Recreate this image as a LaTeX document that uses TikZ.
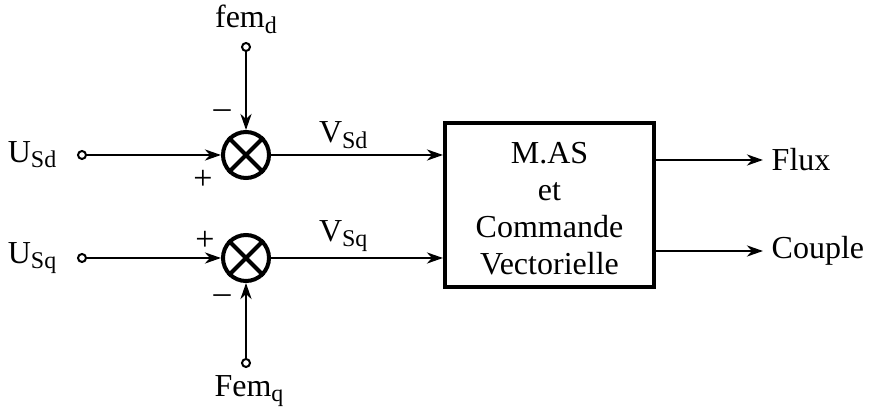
\documentclass[tikz,border=0pt]{standalone}
\usepackage{fontspec}
\setmainfont{Liberation Serif}
\usetikzlibrary{arrows.meta, positioning}
\newcommand\lowtxt[1]{\raisebox{-0.35ex}{\fontsize{24}{24}\selectfont #1}}

\begin{document}
\begin{tikzpicture}[x=1pt, y=1pt, line width=2.8pt,
        >={Stealth[length=16pt,width=11pt,inset=5pt]},
        every node/.style={font=\fontsize{32}{37}\selectfont},
        sumnode/.style={draw, circle, minimum size=46pt, inner sep=0pt, line width=4pt},
        term/.style={draw, circle, fill=white, minimum size=8pt, inner sep=0pt, line width=2pt},
        sign/.style={font=\fontsize{34}{34}\selectfont, inner sep=0pt},
        blockbox/.style={draw, line width=4pt, minimum width=209pt, minimum height=164pt, align=center}]
        \useasboundingbox (0,0) rectangle (876,412);
        % summing junctions
        \node[sumnode] (sumD) at (246,257) {};
        \node[sumnode] (sumQ) at (246,154) {};
        \draw[line width=4pt] (sumD.north west) -- (sumD.south east) (sumD.north east) -- (sumD.south west);
        \draw[line width=4pt] (sumQ.north west) -- (sumQ.south east) (sumQ.north east) -- (sumQ.south west);
        \node[blockbox] (mas) at (549.5,207) {};
        \node[align=center] (mastxt) at ([yshift=-4pt]mas.center) {M.AS\\et\\Commande\\Vectorielle};
        % inputs
        \node[term] (uD) at (82,257) {};
        \node[term] (uQ) at (82,154) {};
        \node[term] (fD) at (246,365) {};
        \node[term] (fQ) at (246,49) {};
        \node[left=16pt of uD] (uDlab) {U\lowtxt{Sd}};
        \node[left=16pt of uQ] (uQlab) {U\lowtxt{Sq}};
        \node[above=4pt of fD] (fDlab) {fem\lowtxt{d}};
        \node[below=3pt of fQ, xshift=3pt] (fQlab) {Fem\lowtxt{q}};
        \node[sign] (mD) at ([shift={(-24,41)}]sumD) {–};
        \node[sign] (pD) at ([shift={(-43,-25)}]sumD) {+};
        \node[sign] (pQ) at ([shift={(-41,17)}]sumQ) {+};
        \node[sign] (mQ) at ([shift={(-24,-41)}]sumQ) {–};
        \draw[->] (uD) -- (sumD);
        \draw[->] (uQ) -- (sumQ);
        \draw[->] (fD) -- (sumD);
        \draw[->] (fQ) -- (sumQ);
        \draw[->] (sumD) -- node[above, pos=0.42, yshift=2pt] {V\lowtxt{Sd}} (mas.west |- sumD);
        \draw[->] (sumQ) -- node[above, pos=0.42, yshift=2pt] {V\lowtxt{Sq}} (mas.west |- sumQ);
        % outputs
        \coordinate (fluxEnd) at (763,252);
        \coordinate (coupleEnd) at (763,161);
        \draw[->] (mas.east |- fluxEnd) -- (fluxEnd) node[right, xshift=4pt] (flux) {Flux};
        \draw[->] (mas.east |- coupleEnd) -- (coupleEnd) node[right, xshift=4pt] (couple) {Couple};
\end{tikzpicture}
\end{document}
